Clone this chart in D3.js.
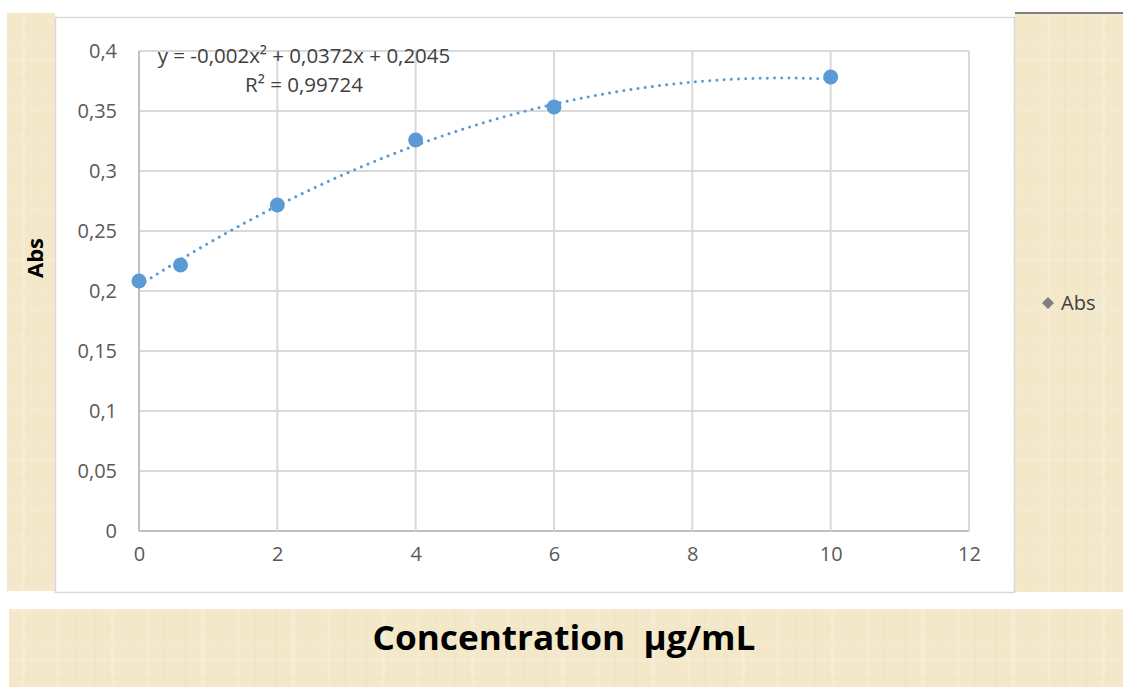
<!DOCTYPE html>
<html><head><meta charset="utf-8">
<script src="https://cdn.jsdelivr.net/npm/d3@7/dist/d3.min.js"></script>
<style>html,body{margin:0;padding:0;background:#fff;overflow:hidden}</style>
</head><body><svg id="c" width="1123" height="687"></svg>
<script>
// ---- data ----
const seriesName = "Abs";
const concentration = [0, 0.6, 2, 4, 6, 10];
const absorbance = [0.2083, 0.2217, 0.2717, 0.3258, 0.3533, 0.3783];
const xTicks = [0, 2, 4, 6, 8, 10, 12];
const yTicks = [0, 0.05, 0.1, 0.15, 0.2, 0.25, 0.3, 0.35, 0.4];
const trendCoefs = [-0.002, 0.0372, 0.2045]; // a, b, c of displayed polynomial trendline
const equationText = "y = -0,002x² + 0,0372x + 0,2045";
const r2Text = "R² = 0,99724";
const xTitle = "Concentration  µg/mL";
const yTitle = "Abs";

const svg = d3.select("#c");
const font = "'Open Sans', 'DejaVu Sans', sans-serif";
const fmt = v => String(+v.toFixed(2)).replace(".", ",");

// parchment pattern (soft)
const defs = svg.append("defs");
const pat = defs.append("pattern").attr("id","parch").attr("patternUnits","userSpaceOnUse")
  .attr("width",90).attr("height",50);
pat.append("rect").attr("width",90).attr("height",50).attr("fill","#F4E8CA");
[[4,"#F0E3C3",3],[21,"#F7EEDA",4],[38,"#F1E5C6",2],[57,"#F6ECD3",3],[74,"#EFE2C1",2]].forEach(d=>{
  pat.append("rect").attr("x",d[0]).attr("y",0).attr("width",d[2]).attr("height",50).attr("fill",d[1]).attr("opacity",0.6);
});
[[9,"#F7EFD9",2],[28,"#F0E3C3",2],[41,"#F6ECD2",3]].forEach(d=>{
  pat.append("rect").attr("x",0).attr("y",d[0]).attr("width",90).attr("height",d[2]).attr("fill",d[1]).attr("opacity",0.4);
});

// background panels
svg.append("rect").attr("x",7).attr("y",13).attr("width",48).attr("height",578).attr("fill","url(#parch)");
svg.append("rect").attr("x",1015).attr("y",13).attr("width",108).attr("height",579).attr("fill","url(#parch)");
svg.append("rect").attr("x",1015).attr("y",12).attr("width",108).attr("height",2).attr("fill","#808080");
svg.append("rect").attr("x",9).attr("y",609).attr("width",1114).attr("height",78).attr("fill","url(#parch)");
// chart area
svg.append("rect").attr("x",55.5).attr("y",17.5).attr("width",959).attr("height",575)
  .attr("fill","#fff").attr("stroke","#D9D9D9").attr("stroke-width",1.5);

// scales
const x = d3.scaleLinear().domain([0,12]).range([139,969]);
const y = d3.scaleLinear().domain([0,0.4]).range([531,51]);

// gridlines
const g = svg.append("g");
g.selectAll(".hg").data(yTicks).join("line")
  .attr("x1",x(0)).attr("x2",x(12)).attr("y1",d=>y(d)).attr("y2",d=>y(d))
  .attr("stroke",d=>d===0?"#BFBFBF":"#D9D9D9").attr("stroke-width",2);
g.selectAll(".vg").data(xTicks).join("line")
  .attr("y1",y(0)).attr("y2",y(0.4)).attr("x1",d=>x(d)).attr("x2",d=>x(d))
  .attr("stroke",d=>d===0?"#BFBFBF":"#D9D9D9").attr("stroke-width",2);

// axes labels via d3 axes
const yAxis = svg.append("g").attr("transform",`translate(${x(0)},0)`)
  .call(d3.axisLeft(y).tickValues(yTicks).tickFormat(fmt).tickSize(0).tickPadding(22));
const xAxis = svg.append("g").attr("transform",`translate(0,${y(0)})`)
  .call(d3.axisBottom(x).tickValues(xTicks).tickFormat(d=>String(d)).tickSize(0).tickPadding(16));
[yAxis,xAxis].forEach(a=>{
  a.select(".domain").remove();
  a.selectAll("text").attr("fill","#595959").style("font-family",font).style("font-size","20px");
});

// trendline (displayed polynomial)
const trendX = d3.range(0, 10.0001, 0.1);
const poly = v => trendCoefs[0]*v*v + trendCoefs[1]*v + trendCoefs[2];
svg.append("path").datum(trendX)
  .attr("d", d3.line().x(d=>x(d)).y(d=>y(poly(d))))
  .attr("fill","none").attr("stroke","#5B9BD5").attr("stroke-width",3)
  .attr("stroke-linecap","round").attr("stroke-dasharray","0.01 7.2");

// points
svg.selectAll(".pt").data(concentration).join("circle")
  .attr("cx",(d)=>x(d)).attr("cy",(d,i)=>y(absorbance[i])).attr("r",7.5)
  .attr("fill","#5B9BD5");

// equation
const eq = svg.append("text").attr("text-anchor","middle").attr("fill","#404040")
  .style("font-family",font).style("font-size","20.5px");
eq.append("tspan").attr("x",304).attr("y",63).text(equationText);
eq.append("tspan").attr("x",304).attr("y",92).text(r2Text);

// y title
svg.append("text").attr("transform","translate(43,258) rotate(-90)").attr("text-anchor","middle")
  .attr("fill","#000").style("font-family",font).style("font-weight","bold").style("font-size","22px").text(yTitle);

// x title
svg.append("text").attr("x",564).attr("y",650).attr("text-anchor","middle").attr("fill","#000")
  .attr("textLength",383).attr("lengthAdjust","spacingAndGlyphs").style("white-space","pre")
  .style("font-family",font).style("font-weight","bold").style("font-size","34px").text(xTitle);

// legend
svg.append("path").attr("d","M0,-6L6,0L0,6L-6,0Z")
  .attr("transform","translate(1048,303)").attr("fill","#7F7F7F");
svg.append("text").attr("x",1061).attr("y",310).attr("fill","#404040")
  .style("font-family",font).style("font-size","20px").text(seriesName);
</script></body></html>
